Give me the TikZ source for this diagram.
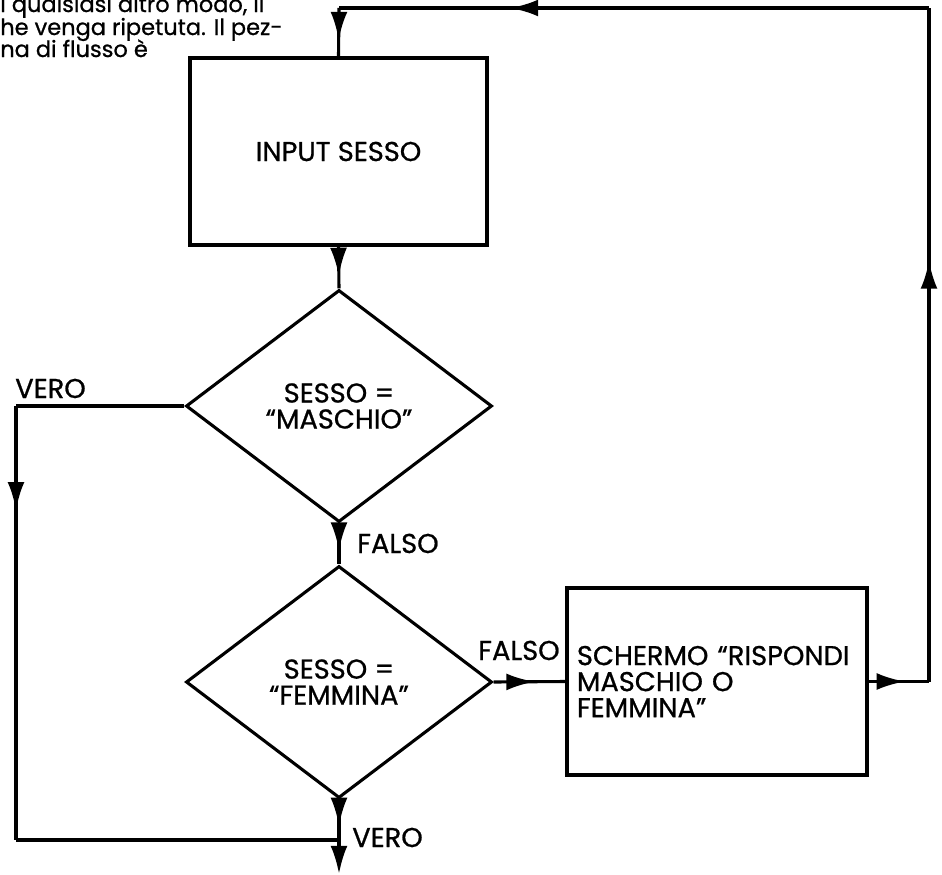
\documentclass[tikz,border=0pt]{standalone}
\usepackage{fontspec}
\setmainfont{Poppins}[FakeBold=0.8]
\usepackage{tikz}
\usetikzlibrary{shapes.geometric,arrows.meta,positioning,calc,decorations.markings}

\newcommand\flowfont{\fontsize{19.4pt}{18.5pt}\selectfont}
\newcommand\notefont{\fontsize{16pt}{15pt}\selectfont}

\tikzset{
    flowline/.style={line width=2.2pt},
    arrowat/.style={postaction={decorate},
        decoration={markings, mark=at position #1 with {\arrow{Latex[length=20pt,width=12pt]}}}},
    procbox/.style={draw, line width=2.2pt, inner sep=0pt, font=\flowfont},
    decision/.style={draw, diamond, line width=2.2pt, inner sep=0pt, align=center,
        minimum width=7.65cm, minimum height=5.8cm, font=\flowfont},
    lbl/.style={inner sep=0pt, anchor=base west, font=\flowfont},
    note/.style={inner sep=0pt, anchor=base west, font=\notefont},
}

\begin{document}
\begin{tikzpicture}[x=0.025cm, y=-0.025cm]
    \useasboundingbox[fill=white] (0,0) rectangle (942,875);
    \clip (0,0) rectangle (942,875);

    % text of the page, cut at the top
    \node[note] (note1) at (0,12) {i qualsiasi altro modo, il};
    \node[note] (note2) at (0,35) {he venga ripetuta. Il pez-};
    \node[note] (note3) at (0,57) {na di flusso è};

    % blocks
    \node[procbox, minimum width=7.425cm, minimum height=4.675cm] (input) at (338.5,151.5) {INPUT SESSO};
    \node[decision] (male) at (339,406) {SESSO =\\``MASCHIO''};
    \node[decision] (female) at (339,682) {SESSO =\\``FEMMINA''};
    \node[procbox, minimum width=7.5cm, minimum height=4.675cm, text width=7cm,
          inner xsep=0.25cm, align=left] (screen) at (717,681.5) {SCHERMO ``RISPONDI\\MASCHIO O\\FEMMINA''};

    % corners of the lines
    \coordinate (rtbot) at (929,681.5);
    \coordinate (rttop) at (929,8);
    \coordinate (lftop) at (339,8);
    \coordinate (lfmid) at (16,406);
    \coordinate (lfbot) at (16,840);
    \coordinate (join) at (339,840);
    \coordinate (exit) at (339,874);

    % connectors
    \draw[flowline, arrowat=0.66] (lftop) -- (input.north);
    \draw[flowline, arrowat=0.7] (input.south) -- (male.north);
    \draw[flowline, arrowat=0.66] (male.south) -- (female.north);
    \draw[flowline, arrowat=0.57] (female.east) -- (screen.west);
    \draw[flowline, arrowat=0.6] (screen.east) -- (rtbot);
    \draw[flowline, arrowat=0.625] (rtbot) -- (rttop);
    \draw[flowline, arrowat=0.71] (rttop) -- (lftop);
    \draw[flowline] (male.west) -- (lfmid);
    \draw[flowline, arrowat=0.24] (lfmid) -- (lfbot);
    \draw[flowline] (lfbot) -- (join);
    \draw[flowline, arrowat=0.65] (female.south) -- (join);
    \draw[flowline, -{Latex[length=20pt,width=12pt]}] (join) -- (exit);

    % labels
    \node[lbl] (vero1) at (15,398) {VERO};
    \node[lbl] (falso1) at (357,553) {FALSO};
    \node[lbl] (falso2) at (478,660) {FALSO};
    \node[lbl] (vero2) at (352,847) {VERO};
\end{tikzpicture}
\end{document}
